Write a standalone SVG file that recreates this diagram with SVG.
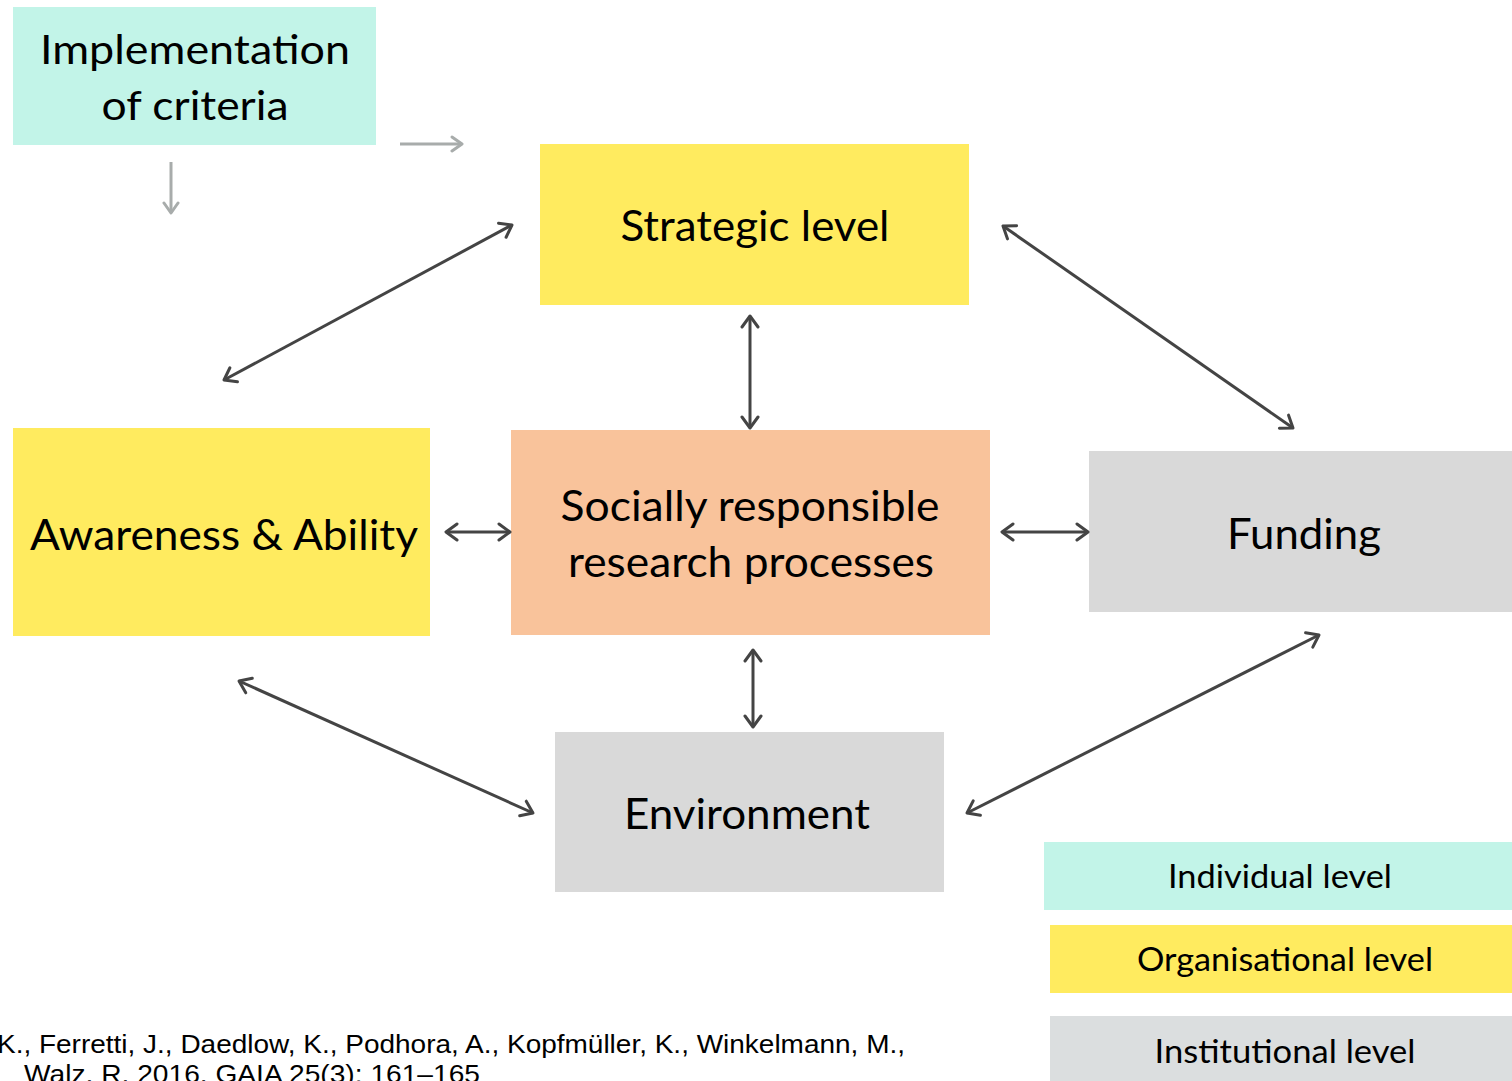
<svg xmlns="http://www.w3.org/2000/svg" width="1512" height="1081" viewBox="0 0 1512 1081">
<style>
.t{font-family:Lato,"Open Sans","Noto Sans",sans-serif;fill:#000;text-anchor:middle}
.c{font-family:"Liberation Sans",Arial,sans-serif;fill:#000;font-size:25px}
.dk{fill:none;stroke:#444;stroke-width:3;marker-start:url(#ah);marker-end:url(#ah)}
.gr{fill:none;stroke:#A8ACAB;stroke-width:3;marker-end:url(#ag)}
</style>
<defs>
<marker id="ah" viewBox="0 0 20 20" refX="18" refY="10" markerWidth="20" markerHeight="20" markerUnits="userSpaceOnUse" orient="auto-start-reverse">
<path d="M7,2 L18,10 L7,18" fill="none" stroke="#444" stroke-width="3" stroke-linecap="round" stroke-linejoin="round"/>
</marker>
<marker id="ag" viewBox="0 0 20 20" refX="18" refY="10" markerWidth="20" markerHeight="20" markerUnits="userSpaceOnUse" orient="auto">
<path d="M8,3 L18,10 L8,17" fill="none" stroke="#A8ACAB" stroke-width="3" stroke-linecap="round" stroke-linejoin="round"/>
</marker>
</defs>
<rect width="1512" height="1081" fill="#fff"/>

<g id="implementation">
<rect x="13" y="7" width="363" height="138" fill="#C2F4E8"/>
<text class="t" x="195" y="64" font-size="41" textLength="310" lengthAdjust="spacingAndGlyphs">Implementation</text>
<text class="t" x="195" y="120" font-size="41" textLength="187" lengthAdjust="spacingAndGlyphs">of criteria</text>
</g>

<g id="strategic">
<rect x="540" y="144" width="429" height="161" fill="#FFEB5F"/>
<text class="t" x="755" y="241" font-size="43" textLength="269" lengthAdjust="spacingAndGlyphs">Strategic level</text>
</g>

<g id="awareness">
<rect x="13" y="428" width="417" height="208" fill="#FFEB5F"/>
<text class="t" x="224" y="550" font-size="43" textLength="388" lengthAdjust="spacingAndGlyphs">Awareness &amp; Ability</text>
</g>

<g id="center">
<rect x="511" y="430" width="479" height="205" fill="#F9C39B"/>
<text class="t" x="750" y="521" font-size="43" textLength="379" lengthAdjust="spacingAndGlyphs">Socially responsible</text>
<text class="t" x="751" y="577" font-size="43" textLength="366" lengthAdjust="spacingAndGlyphs">research processes</text>
</g>

<g id="funding">
<rect x="1089" y="451" width="423" height="161" fill="#D9D9D9"/>
<text class="t" x="1304" y="549" font-size="43" textLength="154" lengthAdjust="spacingAndGlyphs">Funding</text>
</g>

<g id="environment">
<rect x="555" y="732" width="389" height="160" fill="#D9D9D9"/>
<text class="t" x="747" y="829" font-size="43" textLength="246" lengthAdjust="spacingAndGlyphs">Environment</text>
</g>

<g id="legend-individual">
<rect x="1044" y="842" width="468" height="68" fill="#C2F4E8"/>
<text class="t" x="1280" y="888" font-size="33" textLength="224" lengthAdjust="spacingAndGlyphs">Individual level</text>
</g>
<g id="legend-organisational">
<rect x="1050" y="925" width="462" height="68" fill="#FFEB5F"/>
<text class="t" x="1285" y="971" font-size="33" textLength="296" lengthAdjust="spacingAndGlyphs">Organisational level</text>
</g>
<g id="legend-institutional">
<rect x="1050" y="1016" width="462" height="65" fill="#DBDEDF"/>
<text class="t" x="1285" y="1063" font-size="33" textLength="261" lengthAdjust="spacingAndGlyphs">Institutional level</text>
</g>

<g id="connectors">
<line class="gr" x1="400" y1="144" x2="462" y2="144"/>
<line class="gr" x1="171" y1="162" x2="171" y2="213"/>
<line class="dk" x1="512" y1="225" x2="224" y2="380"/>
<line class="dk" x1="750" y1="316" x2="750" y2="428"/>
<line class="dk" x1="1003" y1="226" x2="1293" y2="428"/>
<line class="dk" x1="446" y1="532" x2="510" y2="532"/>
<line class="dk" x1="1002" y1="532" x2="1088" y2="532"/>
<line class="dk" x1="753" y1="650" x2="753" y2="727"/>
<line class="dk" x1="239" y1="681" x2="533" y2="813"/>
<line class="dk" x1="1319" y1="635" x2="967" y2="813"/>
</g>

<g id="citation">
<text class="c" x="-3" y="1053" textLength="908" lengthAdjust="spacingAndGlyphs">K., Ferretti, J., Daedlow, K., Podhora, A., Kopfmüller, K., Winkelmann, M.,</text>
<text class="c" x="24" y="1083" textLength="456" lengthAdjust="spacingAndGlyphs">Walz, R. 2016. GAIA 25(3): 161–165</text>
</g>
</svg>
